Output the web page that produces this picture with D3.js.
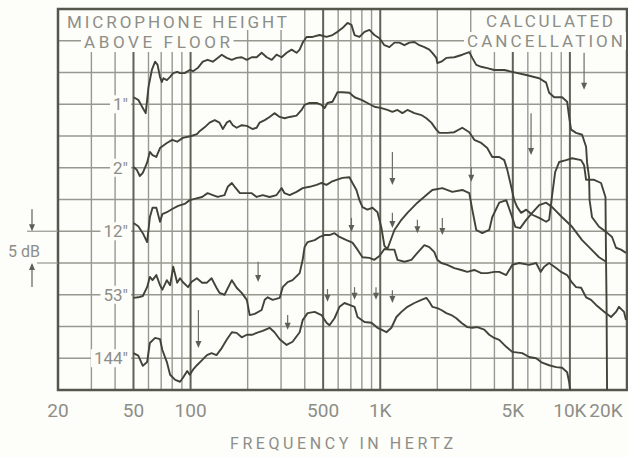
<!DOCTYPE html>
<html>
<head>
<meta charset="utf-8">
<script src="https://cdn.jsdelivr.net/npm/d3@7"></script>
<style>
  body { margin: 0; background: #fdfdfa; }
  svg { display: block; }
  text { font-family: Roboto, "DejaVu Sans", sans-serif; fill: #8d8e87; }
</style>
</head>
<body>
<div id="grafica"></div>
<script>
// ejes
var xTicks = [20, 50, 100, 500, 1000, 5000, 10000, 20000];
var xTickLabels = ["20", "50", "100", "500", "1K", "5K", "10K", "20K"];
var gridFreqs = [30, 40, 50, 60, 70, 80, 90, 100, 200, 300, 400, 500, 600, 700, 800, 900,
  1000, 2000, 3000, 4000, 5000, 6000, 7000, 8000, 9000, 10000];
var heavyFreqs = [50, 100, 500, 1000, 5000, 10000];
var gridDb = [5, 10, 15, 20, 25, 30, 35, 40, 45, 50, 55];

// curvas: [Hz, dB]
var micLabels = ['1"', '2"', '12"', '53"', '144"'];
var micRefDb = [45, 35, 25, 15, 5];

var mic1 = [[50,46.1],[53,45.7],[56,44.4],[58,43.6],[60,47.7],[62.5,50.4],[65,51.7],[67,51.2],[69,49.3],[70.5,48.5],[72,49.1],[75,48.8],[78,49.3],[81,49.9],[85,50.1],[88,49.9],[93,49.9],[99,50.4],[103,50.2],[109,50.7],[116,51.7],[123,52.0],[131,51.7],[139,52.3],[146,52.8],[155,52.3],[165,52.0],[175,52.3],[186,52.4],[198,52.0],[210,52.4],[223,52.4],[237,53.1],[252,52.4],[268,52.0],[284,52.8],[302,52.4],[321,53.1],[341,53.6],[362,53.1],[376,53.6],[390,54.7],[409,55.6],[440,55.6],[479,55.9],[521,55.6],[560,55.9],[595,56.4],[632,57.0],[672,57.8],[705,57.5],[732,55.9],[777,55.6],[826,56.4],[877,56.7],[932,55.9],[990,55.4],[1052,54.3],[1118,54.0],[1188,54.7],[1262,54.7],[1341,54.3],[1425,54.7],[1514,54.8],[1608,54.3],[1709,54.0],[1815,53.6],[1882,53.1],[1976,52.3],[2000,51.5],[2099,51.7],[2230,52.3],[2458,52.4],[2708,52.8],[2948,53.2],[3057,52.3],[3209,51.2],[3409,50.9],[3666,50.7],[3991,50.4],[4506,50.4],[4964,50.1],[5882,49.6],[6884,49.1],[7497,48.4],[7772,46.8],[8260,46.1],[9100,46.1],[9668,45.4],[9904,43.0],[10147,41.0],[10780,40.5],[11596,40.2],[12170,38.3],[12320,35.8],[12619,33.5],[12700,29.9],[13086,27.2],[14244,25.7],[15510,24.9],[16680,24.1],[17500,22.4],[18598,22.1],[19760,21.6]];

var mic2 = [[50,35.1],[52,34.7],[54,33.7],[56,34.2],[59,35.8],[61,37.5],[63,37.0],[66,36.7],[69,38.1],[71,38.4],[75,38.9],[80,39.4],[85,39.1],[91,39.7],[101,40.0],[108,40.3],[112,40.8],[119,41.4],[126,42.1],[134,42.5],[142,42.1],[148,41.1],[155,42.1],[161,42.4],[167,41.7],[175,41.3],[186,41.7],[198,41.6],[212,41.1],[223,41.3],[231,42.1],[246,42.5],[261,43.0],[277,43.6],[295,43.0],[313,42.8],[333,43.0],[362,43.2],[385,44.1],[399,44.9],[424,45.2],[462,45.2],[490,44.9],[509,44.4],[527,45.2],[560,45.4],[595,46.9],[632,46.9],[688,46.8],[732,46.1],[796,45.7],[856,45.2],[932,44.6],[1015,44.4],[1091,44.1],[1159,43.8],[1232,44.1],[1309,43.6],[1391,44.1],[1514,43.6],[1648,43.3],[1751,42.8],[1860,42.1],[1976,41.0],[2049,40.5],[2258,40.5],[2458,40.6],[2708,41.3],[2948,40.6],[3132,39.4],[3409,38.9],[3666,38.1],[3895,36.7],[4240,36.7],[4506,36.2],[4673,34.7],[4905,32.0],[5086,29.9],[5274,28.8],[5536,27.9],[5882,28.4],[6325,27.6],[6884,27.1],[7497,26.5],[7772,26.8],[8060,30.7],[8360,34.3],[8775,35.9],[9551,36.2],[10270,36.5],[11457,36.2],[11878,35.4],[12170,33.1],[13410,33.1],[14594,32.6],[15400,30.4],[15510,20.2]];

var mic12 = [[50,26.3],[53,25.8],[56,24.7],[59,23.3],[61,27.2],[63,28.7],[66,28.7],[69,26.5],[71,27.7],[75,28.0],[80,28.5],[86,29.0],[93,29.3],[99,29.9],[105,30.1],[115,30.4],[123,31.0],[131,30.7],[139,30.4],[151,30.7],[157,32.0],[165,32.6],[171,32.0],[182,31.0],[198,31.0],[210,31.0],[223,30.4],[240,30.7],[261,30.4],[284,30.7],[302,31.8],[313,31.0],[333,30.7],[362,31.2],[390,31.8],[424,32.0],[462,32.3],[490,32.6],[521,32.3],[554,32.8],[588,33.1],[632,33.4],[688,33.5],[714,32.6],[749,31.5],[777,29.9],[806,28.8],[856,28.4],[910,28.7],[967,28.0],[1015,25.5],[1052,22.7],[1091,22.2],[1145,23.9],[1188,25.2],[1293,26.8],[1391,27.9],[1570,29.5],[1751,30.7],[1882,31.5],[2125,31.8],[2399,31.2],[2708,31.5],[2948,31.0],[3057,28.4],[3209,25.2],[3451,24.7],[3756,25.2],[3895,27.2],[4240,29.5],[4616,29.9],[4964,27.2],[5150,25.7],[5470,25.5],[5882,26.8],[6325,27.9],[6884,29.1],[7497,29.5],[8060,28.8],[9100,27.2],[10270,25.7],[11596,23.6],[12619,22.5],[14244,20.9],[15510,20.2],[15600,14.2],[15700,0]];

var mic53 = [[50,14.5],[53,14.6],[56,14.8],[59,16.2],[61,17.8],[63,17.3],[66,18.1],[69,16.5],[71,15.8],[75,17.3],[78,16.5],[81,19.4],[85,16.9],[88,17.6],[91,17.0],[97,16.2],[101,17.0],[108,17.6],[115,16.9],[122,16.9],[129,17.6],[137,16.1],[142,15.3],[151,15.0],[165,17.3],[175,16.1],[186,15.3],[198,14.2],[205,11.8],[218,12.0],[237,12.6],[246,14.2],[255,14.6],[271,14.2],[295,14.5],[306,16.2],[325,17.0],[345,17.3],[376,18.4],[390,20.5],[399,22.5],[414,23.3],[451,23.6],[479,24.1],[509,24.4],[540,24.4],[574,24.7],[610,24.1],[664,23.6],[714,23.2],[759,22.1],[806,20.9],[877,20.8],[932,20.5],[990,21.1],[1052,22.2],[1118,22.1],[1188,22.1],[1232,20.5],[1341,20.2],[1460,20.5],[1570,21.6],[1709,22.8],[1815,22.5],[1929,21.7],[2000,20.5],[2099,20.0],[2258,19.7],[2458,19.2],[2676,18.9],[2877,18.6],[3132,18.9],[3409,18.4],[3666,18.4],[3991,18.6],[4240,18.6],[4616,18.1],[4964,19.7],[5403,20.0],[6100,19.7],[6638,20.0],[7010,18.6],[7316,19.4],[7772,20.0],[8460,19.2],[8990,18.6],[9668,18.1],[10270,16.9],[10780,16.2],[11457,16.1],[12170,14.6],[12930,14.2],[13737,13.4],[14772,12.6],[15510,12.1],[16480,11.5],[17500,12.3],[18152,13.1],[19286,12.3],[19760,11.0]];

var mic144 = [[50,5.8],[53,5.4],[56,3.8],[59,4.4],[61,7.4],[65,8.2],[69,8.0],[71,6.3],[75,4.4],[78,2.4],[83,1.6],[88,1.3],[91,1.9],[96,3.0],[99,2.4],[103,3.2],[108,3.9],[115,4.7],[122,5.5],[129,5.8],[137,5.5],[146,6.6],[155,7.9],[165,9.1],[175,9.0],[186,8.3],[198,8.7],[212,8.7],[223,9.0],[240,9.3],[261,9.8],[277,9.1],[295,8.0],[321,7.1],[345,7.6],[376,9.1],[390,11.0],[414,12.1],[451,12.3],[490,11.8],[521,10.6],[540,10.2],[574,11.3],[610,13.1],[648,13.7],[688,13.4],[732,13.1],[759,11.5],[826,10.7],[899,10.6],[967,9.8],[1015,9.5],[1078,9.1],[1145,9.8],[1217,11.5],[1293,12.3],[1391,13.1],[1514,13.7],[1648,14.2],[1751,14.5],[1815,13.9],[1882,13.1],[2000,12.9],[2099,12.6],[2230,12.1],[2370,11.8],[2518,11.3],[2676,10.6],[2877,9.9],[3057,9.8],[3248,9.9],[3536,9.5],[3756,8.7],[3991,8.2],[4240,7.9],[4616,6.8],[4964,6.0],[5603,5.8],[6100,5.2],[6638,5.0],[7138,4.3],[7772,3.9],[8460,3.6],[9100,3.5],[9668,2.8],[9904,1.3],[10024,0]];

var micCurves = [mic1, mic2, mic12, mic53, mic144];

// flechas de cancelacion calculada: [Hz, dB inicio, dB punta]
var arrows = [[11878,53.1,47.3],[6240,43.6,37.0],[1159,37.5,32.3],[3020,35.1,32.8],
  [705,27.1,24.9],[1159,27.9,25.5],[1570,26.8,24.7],[2125,27.1,24.4],
  [732,16.2,14.2],[950,16.2,14.2],[1159,15.7,13.7],[527,15.9,13.9],
  [227,20.2,17.0],[110,12.6,6.6],[325,11.8,9.5]];

var W = 628, H = 457;
var svg = d3.select("#grafica").append("svg")
  .attr("width", W).attr("height", H);

var x = d3.scaleLog().domain([20, 20000]).range([58, 627]);
var y = d3.scaleLinear().domain([0, 60]).range([390, 9]);

var gridCol = "#97988f", heavyCol = "#606157", lineCol = "#424338";

// rejilla horizontal
svg.append("g").selectAll("line").data(gridDb).join("line")
  .attr("x1", 58).attr("x2", 627)
  .attr("y1", function(d) { return y(d); }).attr("y2", function(d) { return y(d); })
  .attr("stroke", gridCol).attr("stroke-width", 1.4);

// rejilla vertical (cortada bajo los recuadros de texto)
function gridTop(f) {
  var px = x(f);
  if (px < 235 || px > 476) return 52;
  if (px < 292) return 30;
  return 9;
}
svg.append("g").selectAll("line").data(gridFreqs).join("line")
  .attr("x1", function(d) { return x(d); }).attr("x2", function(d) { return x(d); })
  .attr("y1", gridTop).attr("y2", 390)
  .attr("stroke", function(d) { return heavyFreqs.indexOf(d) >= 0 ? heavyCol : gridCol; })
  .attr("stroke-width", function(d) { return heavyFreqs.indexOf(d) >= 0 ? 2 : 1.4; });

// marco
svg.append("rect")
  .attr("x", 58).attr("y", 9).attr("width", 569).attr("height", 381)
  .attr("fill", "none").attr("stroke", "#55564c").attr("stroke-width", 2.5);

var bgLayer = svg.append("g");
var curveLayer = svg.append("g");
var textLayer = svg.append("g");

function label(txt, px, py, anchor, size, opts) {
  opts = opts || {};
  var t = textLayer.append("text")
    .attr("x", px).attr("y", py)
    .attr("text-anchor", anchor)
    .attr("font-size", size)
    .attr("letter-spacing", opts.spacing || 0)
    .text(txt);
  if (opts.len) t.attr("textLength", opts.len).attr("lengthAdjust", "spacing");
  if (opts.bg) {
    var b = t.node().getBBox();
    bgLayer.append("rect")
      .attr("x", b.x - 3).attr("y", b.y + 1).attr("width", b.width + 6).attr("height", b.height - 2)
      .attr("fill", "#fdfdfa");
  }
  return t;
}

// curvas
var line = d3.line()
  .x(function(d) { return x(d[0]); })
  .y(function(d) { return y(d[1]); });

curveLayer.selectAll("path").data(micCurves).join("path")
  .attr("d", line)
  .attr("fill", "none")
  .attr("stroke", lineCol)
  .attr("stroke-width", 1.9)
  .attr("stroke-linejoin", "round");

// flechas
arrows.forEach(function(a) {
  var px = x(a[0]), y0 = y(a[1]), y1 = y(a[2]);
  curveLayer.append("line")
    .attr("x1", px).attr("x2", px).attr("y1", y0).attr("y2", y1 - 4)
    .attr("stroke", "#6d6e65").attr("stroke-width", 1.2);
  curveLayer.append("path")
    .attr("d", "M" + (px - 3) + "," + (y1 - 7) + "L" + (px + 3) + "," + (y1 - 7) + "L" + px + "," + y1 + "Z")
    .attr("fill", "#5d5e55");
});

// etiquetas de curvas
micLabels.forEach(function(m, i) {
  label(m, 128, y(micRefDb[i]) + 6, "end", 17, {bg: true});
});

// textos de los recuadros
label("MICROPHONE HEIGHT", 67, 28, "start", 17, {len: 220});
label("ABOVE FLOOR", 84, 48, "start", 17, {len: 146, bg: true});
label("CALCULATED", 486, 27, "start", 17, {len: 127});
label("CANCELLATION", 467, 47, "start", 17, {len: 156, bg: true});

// eje x
xTicks.forEach(function(v, i) {
  label(xTickLabels[i], Math.min(x(v), 606), 417, "middle", 19);
});
label("FREQUENCY IN HERTZ", 230, 449, "start", 16, {len: 223});

// escala 5 dB
svg.append("line").attr("x1", 27).attr("x2", 58).attr("y1", y(25)).attr("y2", y(25))
  .attr("stroke", gridCol).attr("stroke-width", 1.2);
svg.append("line").attr("x1", 37).attr("x2", 58).attr("y1", y(20)).attr("y2", y(20))
  .attr("stroke", gridCol).attr("stroke-width", 1.2);
svg.append("line").attr("x1", 32).attr("x2", 32).attr("y1", y(25) - 22).attr("y2", y(25) - 5)
  .attr("stroke", "#6d6e65").attr("stroke-width", 1.3);
svg.append("path").attr("d", "M29," + (y(25) - 7) + "L35," + (y(25) - 7) + "L32," + y(25) + "Z")
  .attr("fill", "#5d5e55");
svg.append("line").attr("x1", 32).attr("x2", 32).attr("y1", y(20) + 5).attr("y2", y(20) + 24)
  .attr("stroke", "#6d6e65").attr("stroke-width", 1.3);
svg.append("path").attr("d", "M29," + (y(20) + 7) + "L35," + (y(20) + 7) + "L32," + y(20) + "Z")
  .attr("fill", "#5d5e55");
label("5 dB", 8, 257, "start", 16);
</script>
</body>
</html>
